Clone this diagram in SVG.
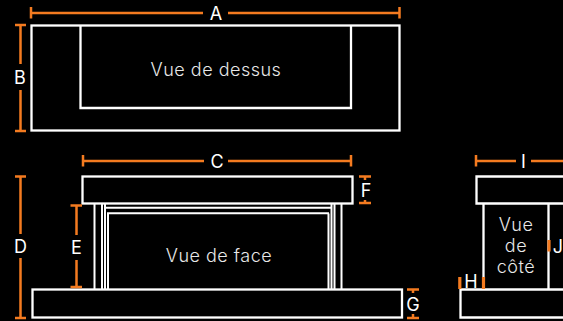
<svg xmlns="http://www.w3.org/2000/svg" width="563" height="321" viewBox="0 0 563 321">
<style>
.s{fill:none;stroke:#fff;stroke-width:2.300}
.t{fill:none;stroke:#fff;stroke-width:2}
.o{fill:none;stroke:#f47b20;stroke-width:2.500}
.w{stroke-width:3.200}
text{font-family:Inter,"Liberation Sans",Arial,sans-serif;fill:#fff;text-anchor:middle}
.d{font-size:18px;font-weight:400}
.l{font-size:18px;font-weight:300;letter-spacing:.5px;fill:#e8e8e8}
</style>
<rect width="563" height="321" fill="#000"/>
<g id="top-view">
<rect class="s" x="31.500" y="25.500" width="368" height="105"/>
<path class="s" d="M80.500 25.500V108H351V25.500"/>
<text class="l" x="216" y="76">Vue de dessus</text>
</g>
<g id="front-view">
<rect class="s" x="82.500" y="176.500" width="270" height="27"/>
<rect class="s" x="32.500" y="289.500" width="369.500" height="28"/>
<path class="t" d="M94.500 204V289M102 204V289M105 204V289M108 213.500V289M328.500 213.500V289M331.500 204V289M334.500 204V289M341.500 204V289M104 207.800H331M107 213.300H329"/>
<text class="l" x="219" y="262">Vue de face</text>
</g>
<g id="side-view">
<path class="s" d="M563 176.500H476.500V203.500H563M563 289.500H460.500V317.500H563M483.500 204V289M548.500 204V289"/>
<text class="l" x="516" y="231">Vue</text>
<text class="l" x="516" y="252">de</text>
<text class="l" x="516" y="273">côté</text>
</g>
<g id="connectors">
<path class="o" d="M31 7V18.500M31 13H203M228 13H399.500M399.500 7V18.500"/>
<path class="o" d="M15 25H26M20.500 25V64M20.500 90V131M15 131H26"/>
<path class="o" d="M83 155V166.500M83 161H204M228 161H351M351 155V166.500"/>
<path class="o" d="M15 176.500H26M20.500 176.500V234M20.500 258V318M15 318H26"/>
<path class="o" d="M70.500 205.500H82M76.500 205.500V235M76.500 260V287M70.500 287H82"/>
<path class="o" d="M359 176.500H371M365 176.500V180M365 200V203M359 203H371"/>
<path class="o" d="M407 289.500H419M413 289.500V293M413 314V318M407 318H419"/>
<path class="o" d="M476 155V166.500M476 161H516M531 161H563"/>
<path class="o w" d="M459.800 277V289M483.500 277V289"/>
<path class="o w" d="M549 240V251.500"/>
</g>
<g id="labels">
<text class="d" x="216" y="20">A</text>
<text class="d" x="20" y="83.500">B</text>
<text class="d" x="217" y="168">C</text>
<text class="d" x="20.500" y="253">D</text>
<text class="d" x="76.500" y="254">E</text>
<text class="d" x="366" y="197">F</text>
<text class="d" x="413" y="311">G</text>
<text class="d" x="523.500" y="168">I</text>
<text class="d" x="471" y="288">H</text>
<text class="d" x="558" y="253">J</text>
</g>
</svg>
